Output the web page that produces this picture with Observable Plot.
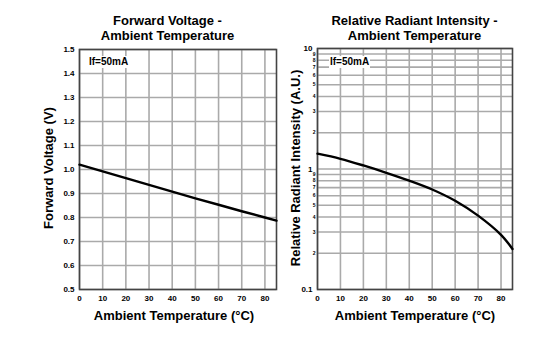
<!DOCTYPE html>
<html>
<head>
<meta charset="utf-8">
<script src="https://cdn.jsdelivr.net/npm/d3@7"></script>
<script src="https://cdn.jsdelivr.net/npm/@observablehq/plot@0.6"></script>
<style>
  html, body { margin: 0; padding: 0; background: #fff; }
  #wrap { position: relative; width: 560px; height: 356px; overflow: hidden; font-family: "Liberation Sans", Arial, sans-serif; color: #000; }
  .panel { position: absolute; top: 0; }
  .t { position: absolute; font-weight: bold; white-space: nowrap; transform: translate(-50%, -50%); }
  .title { font-size: 13px; text-align: center; line-height: 15px; }
  .alab { font-size: 13px; }
  .ylab { font-size: 13px; transform: translate(-50%, -50%) rotate(-90deg); }
  .note { position: absolute; font-size: 10px; font-weight: bold; background: #fff; padding: 0 1px; line-height: 12px; }
</style>
</head>
<body>
<div id="wrap">
  <div class="panel" id="left" style="left:0px"></div>
  <div class="panel" id="right" style="left:280px"></div>
  <div class="t title" style="left:167.5px; top:28px">Forward Voltage -<br>Ambient Temperature</div>
  <div class="t title" style="left:414.5px; top:28px">Relative Radiant Intensity -<br>Ambient Temperature</div>
  <div class="t alab" style="left:174px; top:315px">Ambient Temperature (°C)</div>
  <div class="t alab" style="left:415px; top:315px">Ambient Temperature (°C)</div>
  <div class="t ylab" style="left:48px; top:168px">Forward Voltage (V)</div>
  <div class="t ylab" style="left:295px; top:168px">Relative Radiant Intensity (A.U.)</div>
  <div class="note" style="left:88px; top:56px">If=50mA</div>
  <div class="note" style="left:329px; top:56px">If=50mA</div>
</div>
<script>
// Data
const temps = [0, 10, 20, 30, 40, 50, 60, 70, 80, 85];
const forwardVoltage = [1.02, 0.992, 0.964, 0.936, 0.908, 0.88, 0.853, 0.826, 0.80, 0.787];
const radiantIntensity = [1.34, 1.215, 1.07, 0.93, 0.80, 0.676, 0.545, 0.41, 0.284, 0.217];
const xTicks = [0, 10, 20, 30, 40, 50, 60, 70, 80];
const vTicks = [0.5, 0.6, 0.7, 0.8, 0.9, 1.0, 1.1, 1.2, 1.3, 1.4, 1.5];
const logMajor = [0.1, 1, 10];
const logMinor = [0.2, 0.3, 0.4, 0.5, 0.6, 0.7, 0.8, 0.9, 2, 3, 4, 5, 6, 7, 8, 9];

const vfData = temps.map((t, i) => ({t, v: forwardVoltage[i]}));
const riData = temps.map((t, i) => ({t, v: radiantIntensity[i]}));

const gridColor = "#aaaaaa";
const frameColor = "#444";
const fontFamily = '"Liberation Sans", Arial, sans-serif';

const left = Plot.plot({
  width: 280, height: 356,
  marginLeft: 79, marginRight: 4, marginTop: 49, marginBottom: 67,
  style: {fontFamily, background: "transparent", overflow: "visible"},
  x: {domain: [0, 85]},
  y: {domain: [0.5, 1.5]},
  marks: [
    Plot.gridX(xTicks, {stroke: gridColor, strokeOpacity: 1, strokeWidth: 1.6}),
    Plot.gridY(vTicks, {stroke: gridColor, strokeOpacity: 1, strokeWidth: 1.6}),
    Plot.axisX(xTicks, {tickSize: 0, tickPadding: 6, fontSize: 8, fontWeight: "bold", label: null}),
    Plot.axisY(vTicks, {tickSize: 0, tickPadding: 5, fontSize: 8, fontWeight: "bold", label: null, tickFormat: d3.format(".1f")}),
    Plot.frame({stroke: frameColor, strokeWidth: 1.6}),
    Plot.line(vfData, {x: "t", y: "v", stroke: "#000", strokeWidth: 2.4})
  ]
});
document.getElementById("left").appendChild(left);

const right = Plot.plot({
  width: 280, height: 356,
  marginLeft: 37, marginRight: 48, marginTop: 48, marginBottom: 67,
  style: {fontFamily, background: "transparent", overflow: "visible"},
  x: {domain: [0, 85]},
  y: {type: "log", domain: [0.1, 10], axis: null},
  marks: [
    Plot.gridX(xTicks, {stroke: gridColor, strokeOpacity: 1, strokeWidth: 1.6}),
    Plot.gridY(logMajor.concat(logMinor), {stroke: gridColor, strokeOpacity: 1, strokeWidth: 1.6}),
    Plot.axisX(xTicks, {tickSize: 0, tickPadding: 6, fontSize: 8, fontWeight: "bold", label: null}),
    Plot.text(logMajor, {y: d => d, frameAnchor: "left", textAnchor: "end", dx: -5, fontSize: 8, fontWeight: "bold",
      text: d => d < 1 ? "0.1" : String(d)}),
    Plot.text(logMinor, {y: d => d, frameAnchor: "left", textAnchor: "end", dx: -2, fontSize: 5, fontWeight: "bold",
      text: d => String(d < 1 ? Math.round(d * 10) : d)}),
    Plot.frame({stroke: frameColor, strokeWidth: 1.6}),
    Plot.line(riData, {x: "t", y: "v", stroke: "#000", strokeWidth: 2.4, curve: "catmull-rom"})
  ]
});
document.getElementById("right").appendChild(right);
</script>
</body>
</html>
